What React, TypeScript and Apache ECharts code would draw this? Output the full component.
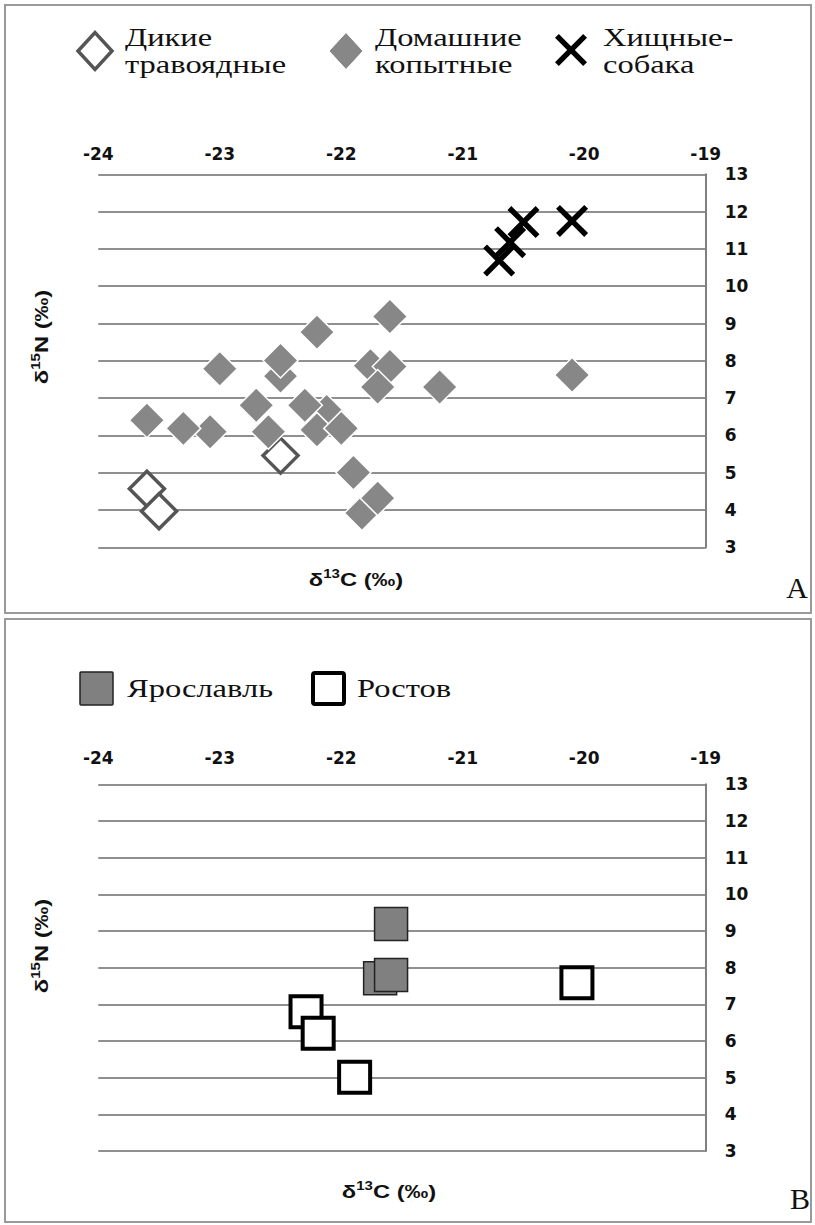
import React, { useEffect, useRef } from "react";
import * as echarts from "echarts";

// ---- data ----
const xTicks = [-24, -23, -22, -21, -20, -19];
const yTicks = [3, 4, 5, 6, 7, 8, 9, 10, 11, 12, 13];

const WILD = "Дикие\nтравоядные";
const DOMESTIC = "Домашние\nкопытные";
const CARNIVORE = "Хищные-\nсобака";
const YAROSLAVL = "Ярославль";
const ROSTOV = "Ростов";

const wildHerbivores: [number, number][] = [
  [-23.6, 4.57],
  [-23.5, 3.97],
  [-22.5, 5.46],
];

const domesticUngulates: [number, number][] = [
  [-22.5, 7.59],
  [-21.76, 7.87],
  [-22.12, 6.64],
  [-23.08, 6.1],
  [-23.3, 6.19],
  [-23.6, 6.41],
  [-23.0, 7.79],
  [-22.5, 8.01],
  [-22.2, 8.77],
  [-21.6, 9.19],
  [-21.6, 7.85],
  [-21.7, 7.3],
  [-21.19, 7.3],
  [-22.7, 6.81],
  [-22.6, 6.1],
  [-22.2, 6.15],
  [-22.3, 6.81],
  [-22.0, 6.19],
  [-21.9, 5.01],
  [-21.83, 3.92],
  [-21.7, 4.32],
  [-20.1, 7.62],
];

const carnivoresDog: [number, number][] = [
  [-20.7, 10.69],
  [-20.61, 11.18],
  [-20.5, 11.72],
  [-20.1, 11.75],
];

const yaroslavl: [number, number][] = [
  [-21.68, 7.71],
  [-21.59, 7.8],
  [-21.59, 9.19],
];

const rostov: [number, number][] = [
  [-22.29, 6.8],
  [-22.19, 6.21],
  [-21.89, 5.01],
  [-20.06, 7.59],
];

// ---- styles ----
const SANS = "DejaVu Sans";
const NAME_SANS = "Liberation Sans";
const SERIF = "Liberation Serif";

const CROSS_UNIT: [number, number][] = [
  [0, 12], [12, 0], [50, 38], [88, 0], [100, 12], [62, 50],
  [100, 88], [88, 100], [50, 62], [12, 100], [0, 88], [38, 50],
];
const CROSS =
  "path://M" + CROSS_UNIT.map((p) => p.join(",")).join("L") + "Z";
const crossPts = (cx: number, cy: number, size: number) =>
  CROSS_UNIT.map(([x, y]) => [cx + ((x - 50) * size) / 100, cy + ((y - 50) * size) / 100]);
const diamondPts = (cx: number, cy: number, w: number, h: number) => [
  [cx - w / 2, cy], [cx, cy - h / 2], [cx + w / 2, cy], [cx, cy + h / 2],
];

const wildStyle = { color: "#ffffff", borderColor: "#555555", borderWidth: 3.5, opacity: 1 };
const domStyle = { color: "#878787", borderColor: "#ffffff", borderWidth: 1.5, opacity: 1 };
const carnStyle = { color: "#000000", borderWidth: 0, opacity: 1 };
const yarStyle = { color: "#808080", borderColor: "#222222", borderWidth: 1.5, opacity: 1 };
const rosStyle = { color: "#ffffff", borderColor: "#000000", borderWidth: 4, opacity: 1 };

const tickLabel = {
  fontFamily: SANS,
  fontWeight: "bold" as const,
  fontSize: 17,
  color: "#111111",
};

const mkX = (gridIndex: number, margin: number) => ({
  type: "value" as const,
  gridIndex,
  position: "top" as const,
  min: xTicks[0],
  max: xTicks[xTicks.length - 1],
  interval: xTicks[1] - xTicks[0],
  axisLine: { show: false },
  axisTick: { show: false },
  splitLine: { show: false },
  axisLabel: { ...tickLabel, margin },
});

const mkY = (gridIndex: number) => ({
  type: "value" as const,
  gridIndex,
  position: "right" as const,
  min: yTicks[0],
  max: yTicks[yTicks.length - 1],
  interval: yTicks[1] - yTicks[0],
  axisLine: { show: true, lineStyle: { color: "#808080", width: 2 } },
  axisTick: { show: false },
  splitLine: { show: true, lineStyle: { color: "#8f8f8f", width: 2 } },
  axisLabel: { ...tickLabel, margin: 19 },
});

const nameRich = {
  m: { fontFamily: NAME_SANS, fontWeight: "bold", fontSize: 19, lineHeight: 22, fill: "#111111", verticalAlign: "bottom" },
  s: { fontFamily: NAME_SANS, fontWeight: "bold", fontSize: 12, lineHeight: 22, fill: "#111111", verticalAlign: "top", padding: [1, 0, 0, 0] },
};

const axisName = (x: number, y: number, iso: string, el: string, vertical: boolean) => ({
  type: "text",
  x,
  y,
  rotation: vertical ? Math.PI / 2 : 0,
  scaleX: 1.25,
  silent: true,
  style: {
    text: `{m|δ}{s|${iso}}{m|${el} (‰)}`,
    rich: nameRich,
    align: "center",
    verticalAlign: "middle",
    textAlign: "center",
    textVerticalAlign: "middle",
  },
});

const legendLabel = (x: number, y: number, text: string) => ({
  type: "text",
  x,
  y,
  scaleX: 1.3,
  silent: true,
  style: {
    text,
    font: `25px '${SERIF}'`,
    fontFamily: SERIF,
    fontSize: 25,
    lineHeight: 27,
    fill: "#111111",
    align: "left",
    verticalAlign: "middle",
    textAlign: "left",
    textVerticalAlign: "middle",
  },
});

const letter = (x: number, y: number, text: string) => ({
  type: "text",
  x,
  y,
  silent: true,
  style: {
    text,
    fontFamily: SERIF,
    fontSize: 30,
    fill: "#111111",
    align: "center",
    verticalAlign: "middle",
    textAlign: "center",
    textVerticalAlign: "middle",
  },
});

export default function App() {
  const ref = useRef<HTMLDivElement>(null);

  useEffect(() => {
    document.body.style.margin = "0";
    const chart = echarts.init(ref.current!, null, { renderer: "svg" });
    const option: any = {
      animation: false,
      backgroundColor: "#ffffff",
      grid: [
        { left: 98.3, top: 174.3, width: 607.4, height: 373.1 },
        { left: 98.3, top: 784.3, width: 607.4, height: 366.7 },
      ],
      xAxis: [mkX(0, 12), mkX(1, 18)],
      yAxis: [mkY(0), mkY(1)],
      series: [
        {
          name: WILD, type: "scatter", xAxisIndex: 0, yAxisIndex: 0,
          symbol: "diamond", symbolSize: 35, itemStyle: wildStyle, data: wildHerbivores,
        },
        {
          name: DOMESTIC, type: "scatter", xAxisIndex: 0, yAxisIndex: 0,
          symbol: "diamond", symbolSize: 35, itemStyle: domStyle, data: domesticUngulates,
        },
        {
          name: CARNIVORE, type: "scatter", xAxisIndex: 0, yAxisIndex: 0,
          symbol: CROSS, symbolSize: 32, itemStyle: carnStyle, data: carnivoresDog,
        },
        {
          name: YAROSLAVL, type: "scatter", xAxisIndex: 1, yAxisIndex: 1,
          symbol: "rect", symbolSize: 33, itemStyle: yarStyle, data: yaroslavl,
        },
        {
          name: ROSTOV, type: "scatter", xAxisIndex: 1, yAxisIndex: 1,
          symbol: "rect", symbolSize: 31, itemStyle: rosStyle, data: rostov,
        },
      ],
      graphic: [
        {
          type: "rect", silent: true, z: -10,
          shape: { x: 5, y: 5, width: 806, height: 608 },
          style: { fill: "none", stroke: "#9a9a9a", lineWidth: 2 },
        },
        {
          type: "rect", silent: true, z: -10,
          shape: { x: 5, y: 619, width: 806, height: 603 },
          style: { fill: "none", stroke: "#9a9a9a", lineWidth: 2 },
        },
        // legend A
        {
          type: "polygon", silent: true,
          shape: { points: diamondPts(95, 51, 34, 37) },
          style: { fill: "#ffffff", stroke: "#555555", lineWidth: 3.5 },
        },
        legendLabel(125, 51, WILD),
        {
          type: "polygon", silent: true,
          shape: { points: diamondPts(346, 51, 34, 37) },
          style: { fill: "#878787", stroke: "#ffffff", lineWidth: 1 },
        },
        legendLabel(375, 51, DOMESTIC),
        {
          type: "polygon", silent: true,
          shape: { points: crossPts(571, 50, 32) },
          style: { fill: "#000000" },
        },
        legendLabel(603, 51, CARNIVORE),
        // legend B
        {
          type: "rect", silent: true,
          shape: { x: 80, y: 672, width: 33, height: 33, r: 1 },
          style: { fill: "#808080", stroke: "#222222", lineWidth: 1.5 },
        },
        legendLabel(127, 688, YAROSLAVL),
        {
          type: "rect", silent: true,
          shape: { x: 313, y: 673, width: 31, height: 31, r: 2 },
          style: { fill: "#ffffff", stroke: "#000000", lineWidth: 4 },
        },
        legendLabel(357, 688, ROSTOV),
        // axis names
        axisName(40, 337, "15", "N", true),
        axisName(40, 946, "15", "N", true),
        axisName(356, 578, "13", "C", false),
        axisName(389, 1190, "13", "C", false),
        letter(797, 587, "A"),
        letter(800, 1198, "B"),
      ],
    };
    chart.setOption(option);
    return () => chart.dispose();
  }, []);

  return <div ref={ref} style={{ width: 815, height: 1225 }} />;
}
